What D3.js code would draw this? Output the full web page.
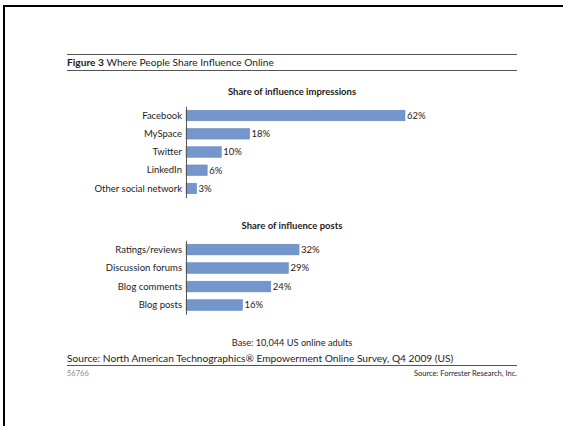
<!DOCTYPE html>
<html>
<head>
<meta charset="utf-8">
<script src="https://cdn.jsdelivr.net/npm/d3@7"></script>
<style>
  body { margin: 0; background: #fff; }
  svg { display: block; font-family: Lato, "Open Sans", sans-serif; }
</style>
</head>
<body>
<svg id="chart" width="563" height="426"></svg>
<script>
// data
const networks = ["Facebook", "MySpace", "Twitter", "LinkedIn", "Other social network"];
const impressions = [62, 18, 10, 6, 3];
const postTypes = ["Ratings/reviews", "Discussion forums", "Blog comments", "Blog posts"];
const posts = [32, 29, 24, 16];

const svg = d3.select("#chart");
const barColor = "#7397cc";
const textColor = "#1e1b1c";

// page frame (scan border on top and left)
svg.append("rect").attr("x", 3).attr("y", 5).attr("width", 560).attr("height", 2).attr("fill", "#000");
svg.append("rect").attr("x", 3).attr("y", 5).attr("width", 2).attr("height", 421).attr("fill", "#000");

// header rules + title
svg.append("line").attr("x1", 67).attr("x2", 517).attr("y1", 54.5).attr("y2", 54.5)
  .attr("stroke", "#555").attr("stroke-width", 1);
svg.append("line").attr("x1", 67).attr("x2", 517).attr("y1", 70.5).attr("y2", 70.5)
  .attr("stroke", "#555").attr("stroke-width", 1);

const title = svg.append("text").attr("x", 67).attr("y", 66)
  .attr("font-size", 10.2).attr("fill", textColor);
title.append("tspan").attr("font-weight", "bold").text("Figure 3");
title.append("tspan").text(" Where People Share Influence Online");

const x = d3.scaleLinear().domain([0, 62]).range([186, 405]);

function panel(cats, vals, top, bottom, heading, headY) {
  const y = d3.scaleBand().domain(cats).range([top, bottom])
    .paddingInner(0.42).paddingOuter(0.21);

  svg.append("text").attr("x", 292).attr("y", headY)
    .attr("text-anchor", "middle").attr("font-size", 9.5)
    .attr("font-weight", "bold").attr("fill", textColor).text(heading);

  const rows = cats.map((c, i) => ({ cat: c, val: vals[i] }));

  svg.selectAll(null).data(rows).enter().append("rect")
    .attr("x", x(0))
    .attr("y", d => y(d.cat))
    .attr("width", d => x(d.val) - x(0))
    .attr("height", y.bandwidth())
    .attr("fill", barColor)
    .attr("stroke", "#5f84bd")
    .attr("stroke-width", 0.5);

  svg.selectAll(null).data(rows).enter().append("text")
    .attr("x", d => x(d.val) + 2)
    .attr("y", d => y(d.cat) + y.bandwidth() / 2)
    .attr("dy", "0.35em")
    .attr("font-size", 9.5)
    .attr("fill", textColor)
    .text(d => d.val + "%");

  const ax = svg.append("g")
    .attr("transform", `translate(${x(0)},0)`)
    .call(d3.axisLeft(y).tickSize(0).tickSizeOuter(0).tickPadding(4));
  ax.select(".domain").attr("stroke", "#555");
  ax.selectAll("text").attr("font-size", 9.5).attr("fill", textColor)
    .attr("font-family", "Lato, 'Open Sans', sans-serif");
}

panel(networks, impressions, 106.4, 197.6, "Share of influence impressions", 95);
panel(postTypes, posts, 240.3, 314.3, "Share of influence posts", 229);

// footer
svg.append("text").attr("x", 292).attr("y", 346).attr("text-anchor", "middle")
  .attr("font-size", 9.2).attr("fill", textColor).text("Base: 10,044 US online adults");

svg.append("text").attr("x", 67).attr("y", 362).attr("font-size", 10.2)
  .attr("fill", textColor)
  .text("Source: North American Technographics\u00ae Empowerment Online Survey, Q4 2009 (US)");

svg.append("line").attr("x1", 67).attr("x2", 517).attr("y1", 365.5).attr("y2", 365.5)
  .attr("stroke", "#555").attr("stroke-width", 1);

svg.append("text").attr("x", 67).attr("y", 376).attr("font-size", 7.5)
  .attr("fill", "#8a8a8a").text("56766");

svg.append("text").attr("x", 517).attr("y", 376).attr("text-anchor", "end")
  .attr("font-size", 7.5).attr("fill", textColor).text("Source: Forrester Research, Inc.");
</script>
</body>
</html>
